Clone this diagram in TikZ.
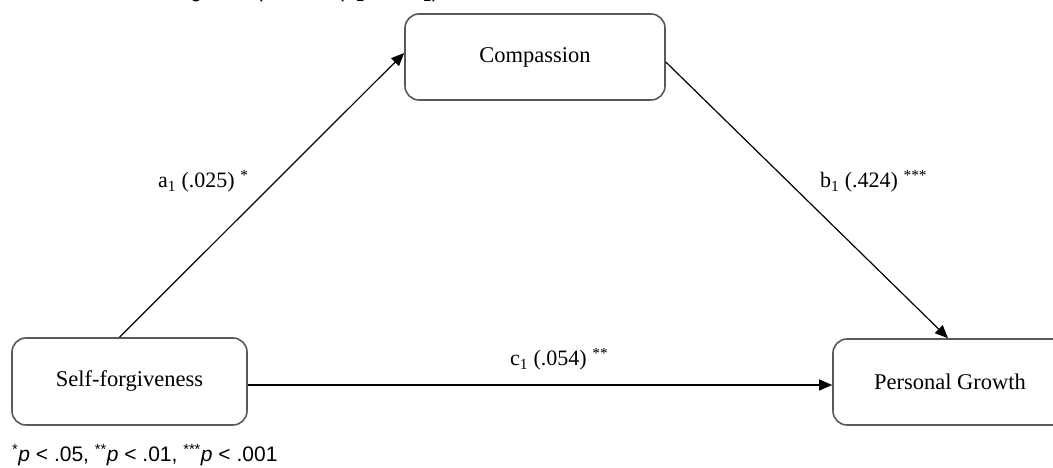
\documentclass[tikz,border=0pt]{standalone}
\usepackage{fontspec}
\setmainfont{Liberation Serif}
\newfontfamily\arialfont{Liberation Sans}
\usetikzlibrary{arrows.meta,calc}
\begin{document}
\begin{tikzpicture}[x=1pt,y=1pt,
  varbox/.style={draw=black!65,line width=1.6pt,rounded corners=14pt,fill=white,
    inner sep=0pt,font=\fontsize{22.5}{27}\selectfont},
  path/.style={draw=black,line width=1.2pt,-{Triangle[length=13pt,width=11pt]}},
  coef/.style={font=\fontsize{22}{26}\selectfont,inner sep=0pt,anchor=base west},
  note/.style={font=\arialfont\fontsize{21}{25}\selectfont,inner sep=0pt,anchor=base west}]
\useasboundingbox (0,0) rectangle (1053,468);
\fill[white] (0,0) rectangle (1053,468);
\node[note] (top) at (12,470) {indirect effect through compassion (a\textsubscript{1} and b\textsubscript{1}).};
\node[varbox,minimum width=260pt,minimum height=86pt] (comp) at (535,411) {Compassion};
\node[varbox,minimum width=235pt,minimum height=87pt] (sf) at (129.5,86.5) {Self-forgiveness};
\node[varbox,minimum width=234pt,minimum height=86pt] (pg) at (950,86) {Personal Growth};
\draw[path] ($(sf.north)+(-10,0)$) -- ($(comp.west)+(0,4)$);
\draw[path] ($(comp.east)+(0,-5)$) -- ($(pg.north)+(-2,0)$);
\draw[path] ($(sf.east)+(0,-3.5)$) -- ($(pg.west)+(0,-3)$);
\node[coef] (la) at (158,280) {a\textsubscript{1} (.025) \textsuperscript{*}};
\node[coef] (lb) at (820,280) {b\textsubscript{1} (.424) \textsuperscript{***}};
\node[coef] (lc) at (510,102) {c\textsubscript{1} (.054) \textsuperscript{**}};
\node[note] (fn) at (12,6) {\textsuperscript{*}\textit{p} < .05, \textsuperscript{**}\textit{p} < .01, \textsuperscript{***}\textit{p} < .001};
\end{tikzpicture}
\end{document}
